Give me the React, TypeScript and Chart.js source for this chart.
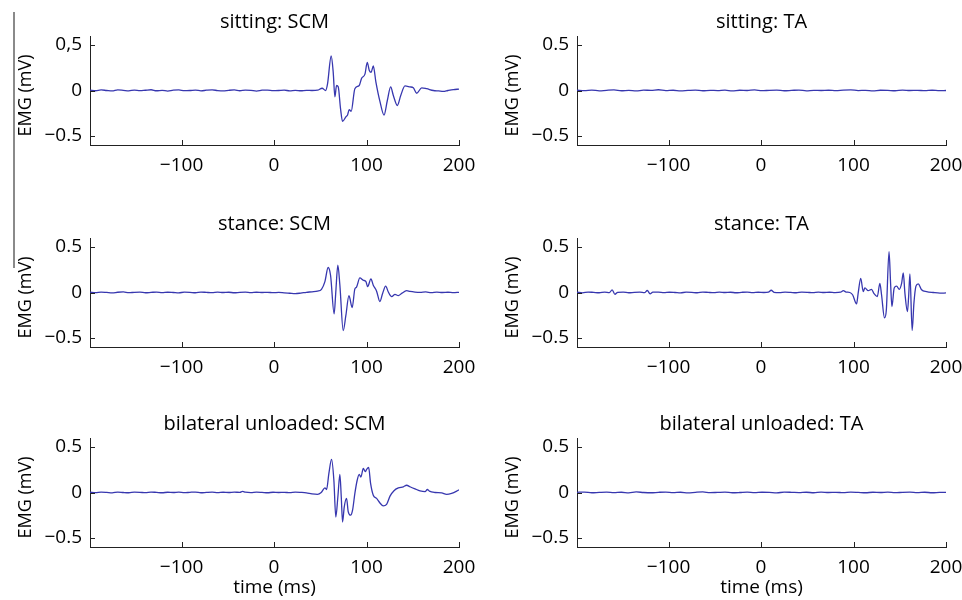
import React, { useEffect, useRef } from "react";
import { Chart, registerables } from "chart.js";
Chart.register(...registerables);

// ---------- tick values & labels ----------
const xTicks = [-100, 0, 100, 200];
const xTickLabels = ["\u2212100", "0", "100", "200"];
const yTicks = [-0.5, 0, 0.5];
const yTickLabels = ["\u22120.5", "0", "0.5"];
const yTickLabelsComma = ["\u22120.5", "0", "0,5"];
const xMin = -199;
const xMax = 200;
const yMin = -0.6;
const yMax = 0.6;

// ---------- titles ----------
const panelTitles = [
  "sitting: SCM",
  "sitting: TA",
  "stance: SCM",
  "stance: TA",
  "bilateral unloaded: SCM",
  "bilateral unloaded: TA",
];
const yAxisLabel = "EMG (mV)";
const xAxisLabel = "time (ms)";

// ---------- sitting: SCM ----------
const sittingScmTime = [
  -199, -193, -187, -181, -175, -169, -163, -157, -151, -145, -139, -133, -127, -121, -115, -109, -103, -97, -91, -85,
  -79, -73, -67, -61, -55, -49, -43, -37, -31, -25, -19, -13, -7, -1, 5, 11, 17, 23, 29, 35, 41, 47,
  52, 55.8, 57.8, 61.8, 64, 65.8, 67.6, 69.4, 71.9, 74.1, 77.7, 79.5, 81.3, 83.4, 87.4, 92.1, 94.7, 98.3, 100.8, 103,
  105, 107.3, 110.2, 114.5, 118.9, 122.5, 126.1, 129, 133.3, 137, 141.6, 147, 150.6, 154.3, 159.7, 165, 172.3, 178,
  183, 188, 194, 200,
];
const sittingScmValues = [
  0.004, -0.003, 0.006, 0.0, -0.005, 0.007, 0.002, -0.004, 0.005, -0.002, 0.003, 0.008, -0.003, 0.001, -0.006, 0.004,
  0.006, -0.002, 0.0, 0.005, -0.004, 0.003, 0.007, -0.001, -0.005, 0.002, 0.006, -0.003, 0.004, 0.001, -0.006, 0.003,
  0.005, -0.002, 0.0, 0.004, -0.004, 0.002, -0.003, 0.001, 0.0, 0.003,
  0.025, 0.0, 0.07, 0.38, 0.2, -0.07, 0.055, 0.04, -0.2, -0.34, -0.29, -0.27, -0.21, -0.23, 0.02, 0.055, 0.135, 0.18,
  0.31, 0.22, 0.2, 0.27, 0.09, -0.12, -0.27, -0.11, 0.04, -0.055, -0.165, -0.055, 0.05, 0.04, 0.03, -0.03, 0.03,
  0.02, 0.0, -0.005, -0.01, 0.0, 0.01, 0.015,
];

// ---------- flat TA traces share a time grid ----------
const flatTime = [
  -199, -191, -183, -175, -167, -159, -151, -143, -135, -127, -119, -111, -103, -95, -87, -79, -71, -63, -55, -47,
  -39, -31, -23, -15, -7, 1, 9, 17, 25, 33, 41, 49, 57, 65, 73, 81, 89, 97, 105, 113, 121, 129, 137, 145, 153, 161,
  169, 177, 185, 193, 200,
];
const sittingTaValues = [
  0.003, -0.002, 0.005, -0.004, 0.002, 0.006, -0.003, 0.001, -0.005, 0.004, 0.002, 0.008, -0.002, 0.003, -0.004,
  0.001, 0.005, -0.003, 0.002, -0.001, 0.004, -0.005, 0.003, 0.0, 0.006, -0.002, 0.002, 0.004, -0.003, 0.001, 0.005,
  -0.004, 0.002, 0.0, 0.003, -0.002, 0.005, 0.007, -0.001, 0.002, -0.004, 0.003, 0.001, -0.003, 0.004, 0.0, 0.002,
  -0.002, 0.003, -0.001, 0.0,
];
const bilateralTaValues = [
  0.002, 0.005, -0.003, 0.001, 0.004, -0.002, 0.003, -0.004, 0.006, 0.0, -0.003, 0.002, 0.005, -0.001, 0.003, -0.004,
  0.002, 0.006, -0.002, 0.001, 0.004, -0.003, 0.0, 0.005, -0.002, 0.003, 0.001, -0.004, 0.004, 0.002, -0.001, 0.003,
  -0.003, 0.005, 0.0, 0.002, -0.002, 0.004, 0.001, -0.003, 0.003, 0.0, 0.005, -0.002, 0.002, 0.004, -0.001, 0.003,
  -0.003, 0.001, 0.002,
];

// ---------- stance: SCM ----------
const stanceScmTime = [
  -199, -193, -187, -181, -175, -169, -163, -157, -151, -145, -139, -133, -127, -121, -115, -109, -103, -97, -91, -85,
  -79, -73, -67, -61, -55, -49, -43, -37, -31, -25, -19, -13, -7, -1, 5, 11, 17, 23, 29, 35, 41,
  47, 51.3, 55, 58.5, 61.1, 65, 66.8, 69, 71.2, 74.8, 77.7, 81, 84.5, 87.4, 89.2, 92.8, 96.5, 99.4, 101.2, 104.8,
  107.3, 110.9, 114.5, 117.4, 120.7, 123.6, 127.2, 130.8, 134.4, 138, 143.4, 147, 152.4,
  158, 164, 170, 176, 182, 188, 194, 200,
];
const stanceScmValues = [
  0.004, -0.002, 0.005, 0.001, -0.004, 0.003, 0.006, -0.002, 0.002, 0.004, -0.003, 0.001, 0.005, -0.002, 0.003, 0.0,
  -0.004, 0.004, 0.002, -0.003, 0.005, 0.001, -0.002, 0.004, 0.0, 0.003, -0.003, 0.002, 0.004, -0.001, 0.003, 0.0,
  0.002, -0.002, 0.001, -0.004, -0.008, -0.012, -0.006, 0.002, 0.008,
  0.015, 0.035, 0.12, 0.275, 0.19, -0.235, 0.01, 0.3, 0.08, -0.42, -0.25, -0.035, -0.165, 0.04, 0.06, 0.16, 0.135,
  0.12, 0.065, 0.15, 0.08, 0.015, -0.1, -0.01, 0.07, 0.005, -0.045, -0.02, -0.035, -0.01, 0.02, 0.012, 0.005,
  0.002, 0.006, -0.002, 0.004, 0.0, 0.003, -0.002, 0.002,
];

// ---------- stance: TA ----------
const stanceTaTime = [
  -199, -193, -187, -181, -175, -169, -164, -161, -158, -155, -149, -143, -137, -131, -126, -123, -120, -117, -111,
  -105, -99, -93, -87, -81, -75, -69, -63, -57, -51, -45, -39, -33, -27, -21, -15, -9, -3, 3, 8, 11, 14, 20, 26, 32,
  38, 44, 50, 56, 62, 68, 74, 80, 86, 89, 92, 96,
  99, 103.3, 105, 107.8, 110.5, 112.3, 115.9, 119.5, 122, 125.7, 128.5, 130.3, 133.5, 135.5, 138.4, 140.1, 141.5,
  144, 146.6, 149.5, 152, 153.8, 155.6, 158.3, 159.6, 161, 163.4, 165.3, 167.5, 170, 173.6, 179, 186.2, 193.4, 200,
];
const stanceTaValues = [
  0.003, -0.004, 0.005, 0.001, -0.003, 0.004, -0.002, 0.03, -0.02, 0.002, 0.005, -0.003, 0.002, 0.004, -0.002, 0.022,
  -0.015, 0.003, 0.005, -0.002, 0.003, 0.0, -0.004, 0.004, 0.002, -0.003, 0.005, 0.001, -0.002, 0.004, 0.0, 0.003,
  -0.003, 0.002, 0.005, -0.001, 0.003, 0.0, 0.004, 0.025, 0.002, -0.002, 0.004, 0.001, -0.003, 0.004, 0.002, -0.002,
  0.005, 0.0, 0.003, -0.001, 0.004, 0.02, 0.005, 0.0,
  -0.025, -0.125, -0.01, 0.155, 0.01, 0.05, 0.02, 0.035, -0.01, -0.045, 0.1, -0.025, -0.28, -0.19, 0.45, 0.1, -0.155,
  0.05, 0.07, 0.035, 0.1, 0.215, -0.01, -0.21, -0.045, 0.205, -0.42, -0.12, 0.07, 0.095, 0.03, 0.01, 0.0, -0.007,
  -0.005,
];

// ---------- bilateral unloaded: SCM ----------
const bilateralScmTime = [
  -199, -193, -187, -181, -175, -169, -163, -157, -151, -145, -139, -133, -127, -121, -115, -109, -103, -97, -91, -85,
  -79, -73, -67, -61, -55, -49, -43, -37, -34, -31, -25, -19, -13, -7, -1, 5, 11, 17, 23, 29, 35, 41, 47, 51,
  55, 56.8, 59.3, 62.2, 64.7, 66.8, 69, 71.2, 72.7, 74.1, 75.9, 78.4, 80.2, 82.8, 84.9, 87.4, 89.9, 92.1, 93.9, 96.5,
  98.7, 100.1, 102.3, 104.4, 107.3, 110.9, 114.5, 118.1, 121.7, 125.4, 129.7, 134.4, 139.8, 143.4, 147, 152.4, 157.9,
  163.3, 165.8, 168, 174, 181.3, 186.6, 192, 197.5, 200,
];
const bilateralScmValues = [
  0.003, -0.002, 0.004, 0.001, -0.004, 0.005, 0.0, -0.003, 0.004, 0.002, -0.002, 0.005, 0.001, -0.003, 0.003, 0.0,
  0.004, -0.002, 0.002, 0.005, -0.003, 0.001, 0.004, -0.002, 0.003, 0.0, 0.004, 0.002, 0.012, 0.003, -0.002, 0.004,
  0.001, -0.003, 0.003, 0.0, 0.002, -0.002, 0.004, 0.001, -0.004, -0.015, -0.02, 0.0,
  0.05, 0.033, 0.21, 0.365, 0.135, -0.27, -0.05, 0.2, -0.05, -0.325, -0.16, -0.065, -0.21, -0.25, -0.195, -0.01,
  0.135, 0.2, 0.17, 0.265, 0.23, 0.255, 0.275, 0.1, -0.03, -0.065, -0.115, -0.147, -0.13, -0.04, 0.02, 0.05, 0.063,
  0.08, 0.063, 0.04, 0.018, 0.01, 0.033, 0.015, 0.0, -0.005, -0.02, -0.01, 0.015, 0.03,
];

// ---------- layout (positions / styles) ----------
const FONT = '"Open Sans", "Noto Sans", sans-serif';
const LINE_COLOR = "rgb(55,55,175)";
const AXIS_COLOR = "#222";
const rowTops = [0, 202, 402];
const colLefts = [10, 497];
const CANVAS_W = 480;
const PLOT_W = 369;
const PLOT_TOP = 36;
const PLOT_H = 109;
const Y_AXIS_W = 80;

const decorPlugin = {
  id: "decor",
  afterDraw(chart: any, _args: any, opts: any) {
    const { ctx, chartArea: a, scales } = chart;
    ctx.save();
    ctx.strokeStyle = AXIS_COLOR;
    ctx.lineWidth = 1;
    ctx.beginPath();
    scales.x.ticks.forEach((t: any) => {
      const px = Math.round(scales.x.getPixelForValue(t.value)) + 0.5;
      ctx.moveTo(px, a.bottom);
      ctx.lineTo(px, a.bottom - 5);
    });
    scales.y.ticks.forEach((t: any) => {
      const py = Math.round(scales.y.getPixelForValue(t.value)) + 0.5;
      ctx.moveTo(a.left, py);
      ctx.lineTo(a.left + 5, py);
    });
    ctx.stroke();
    ctx.fillStyle = "#000";
    ctx.font = `20px ${FONT}`;
    ctx.textAlign = "center";
    ctx.textBaseline = "alphabetic";
    ctx.fillText(opts.title, (a.left + a.right) / 2, a.top - 8);
    ctx.translate(16, (a.top + a.bottom) / 2 + 5);
    ctx.rotate(-Math.PI / 2);
    ctx.textBaseline = "middle";
    ctx.font = `18px ${FONT}`;
    ctx.fillText(yAxisLabel, 0, 0);
    ctx.restore();
  },
};

type PanelProps = {
  title: string;
  time: number[];
  values: number[];
  yLabels: string[];
  row: number;
  col: number;
};

function Panel({ title, time, values, yLabels, row, col }: PanelProps) {
  const ref = useRef<HTMLCanvasElement>(null);
  const bottomRow = row === 2;
  const xAxisH = bottomRow ? 55 : 40;
  const width = CANVAS_W;
  const height = PLOT_TOP + PLOT_H + xAxisH;
  const padRight = CANVAS_W - Y_AXIS_W - PLOT_W;

  useEffect(() => {
    const chart = new Chart(ref.current as HTMLCanvasElement, {
      type: "line",
      data: {
        datasets: [
          {
            data: time.map((t, i) => ({ x: t, y: values[i] })),
            borderColor: LINE_COLOR,
            borderWidth: 1.3,
            pointRadius: 0,
            fill: false,
            cubicInterpolationMode: "monotone",
          },
        ],
      },
      options: {
        animation: false,
        responsive: false,
        events: [],
        layout: { padding: { top: PLOT_TOP, left: 0, right: padRight, bottom: 0 } },
        plugins: {
          legend: { display: false },
          tooltip: { enabled: false },
          decor: { title },
        } as any,
        scales: {
          x: {
            type: "linear",
            min: xMin,
            max: xMax,
            afterBuildTicks: (s: any) => {
              s.ticks = xTicks.map((v) => ({ value: v }));
            },
            afterFit: (s: any) => {
              s.height = xAxisH;
            },
            grid: { display: false, drawTicks: false },
            border: { display: true, color: AXIS_COLOR, width: 1 },
            ticks: {
              padding: 9,
              color: "#000",
              font: { family: FONT, size: 19 },
              maxRotation: 0,
              autoSkip: false,
              callback: (_v: any, i: number) => xTickLabels[i],
            },
            title: {
              display: bottomRow,
              text: xAxisLabel,
              color: "#000",
              font: { family: FONT, size: 19 },
              padding: { top: 0, bottom: 3 },
            },
          },
          y: {
            type: "linear",
            min: yMin,
            max: yMax,
            afterBuildTicks: (s: any) => {
              s.ticks = yTicks.map((v) => ({ value: v }));
            },
            afterFit: (s: any) => {
              s.width = Y_AXIS_W;
            },
            grid: { display: false, drawTicks: false },
            border: { display: true, color: AXIS_COLOR, width: 1 },
            ticks: {
              padding: 8,
              color: "#000",
              font: { family: FONT, size: 19 },
              autoSkip: false,
              callback: (_v: any, i: number) => yLabels[i],
            },
          },
        },
      } as any,
      plugins: [decorPlugin],
    });
    return () => chart.destroy();
  }, []);

  return (
    <canvas
      ref={ref}
      width={width}
      height={height}
      style={{ position: "absolute", left: colLefts[col], top: rowTops[row], width, height }}
    />
  );
}

export default function App() {
  return (
    <div
      style={{
        position: "fixed",
        left: 0,
        top: 0,
        width: 962,
        height: 600,
        overflow: "hidden",
        background: "#fff",
      }}
    >
      <div style={{ position: "absolute", left: 13, top: 12, width: 2, height: 256, background: "#8a8a8a" }} />
      <Panel title={panelTitles[0]} time={sittingScmTime} values={sittingScmValues} yLabels={yTickLabelsComma} row={0} col={0} />
      <Panel title={panelTitles[1]} time={flatTime} values={sittingTaValues} yLabels={yTickLabels} row={0} col={1} />
      <Panel title={panelTitles[2]} time={stanceScmTime} values={stanceScmValues} yLabels={yTickLabels} row={1} col={0} />
      <Panel title={panelTitles[3]} time={stanceTaTime} values={stanceTaValues} yLabels={yTickLabels} row={1} col={1} />
      <Panel title={panelTitles[4]} time={bilateralScmTime} values={bilateralScmValues} yLabels={yTickLabels} row={2} col={0} />
      <Panel title={panelTitles[5]} time={flatTime} values={bilateralTaValues} yLabels={yTickLabels} row={2} col={1} />
    </div>
  );
}
